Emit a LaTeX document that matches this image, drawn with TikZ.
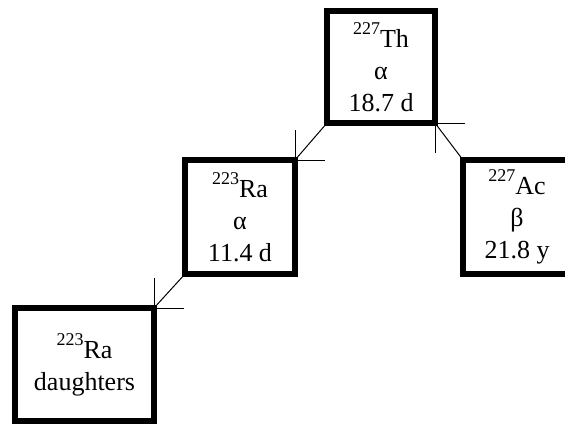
\documentclass[tikz,border=0pt]{standalone}
\usepackage{fontspec}
\setmainfont{Liberation Serif}
\usepackage{tikz}
\usetikzlibrary{backgrounds}

\newcommand{\iso}[2]{\raisebox{0.5em}{\fontsize{18}{18}\selectfont #1}#2}
\newcommand{\crossat}[1]{\draw [decay] (#1) ++(0,-\c) -- ++(0,{2*\c}) (#1) ++(-\c,0) -- ++({2*\c},0);}

\begin{document}
\begin{tikzpicture}[x = 1pt, y = -1pt,
		nuclide/.style = {draw, line width = 6pt, fill = white, outer sep = 0pt, inner sep = 0pt, align = center, font = \fontsize{26}{32}\selectfont},
		decay/.style = {line width = 1pt}]
		\def\c{30};
		
		\useasboundingbox (0,0) rectangle (565,424);
		
		\node [nuclide, minimum width = 108pt, minimum height = 112pt] (th) at (381,67) {\iso{227}{Th}\\α\\18.7 d};
		\node [nuclide, minimum width = 110pt, minimum height = 114pt] (ra) at (240,217) {\iso{223}{Ra}\\α\\11.4 d};
		\node [nuclide, minimum width = 108pt, minimum height = 114pt] (ac) at (517,217) {\iso{227}{Ac}\\β\\21.8 y};
		\node [nuclide, minimum width = 139pt, minimum height = 113pt] (dau) at (84.5,364.5) {\iso{223}{Ra}\\daughters};
		
		\begin{scope}[on background layer]
			\draw [decay] (th.south west) -- (ra.north east);
			\crossat{ra.north east}
			
			\draw [decay] (ra.south west) -- (dau.north east);
			\crossat{dau.north east}
			
			\draw [decay] (ac.north west) -- (th.south east);
			\crossat{th.south east}
		\end{scope}
	\end{tikzpicture}
\end{document}
